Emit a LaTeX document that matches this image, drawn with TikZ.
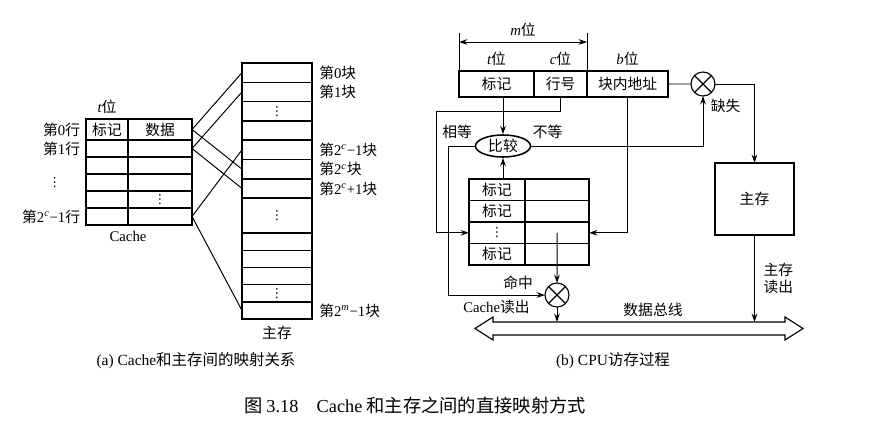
\documentclass[tikz,border=0pt]{standalone}
\usepackage{fontspec}
\setmainfont{Noto Sans CJK SC}
\newfontfamily\lat{Liberation Serif}
\newfontfamily\sym{DejaVu Sans}
\usetikzlibrary{arrows.meta,positioning,shapes.geometric}
\newcommand\hang[1]{第{\lat #1}行}
\newcommand\kuai[1]{第{\lat #1}块}
\newcommand\pw[1]{{\lat\itshape #1}位}
\newcommand\tc{2\textsuperscript{\itshape c}}
\newcommand\tm{2\textsuperscript{\itshape m}}
\newcommand\vd{{\sym\fontsize{9}{10}\selectfont ⋮}}

\begin{document}
\begin{tikzpicture}[x=0.025cm, y=-0.025cm, font=\fontsize{10.5}{12.5}\selectfont, inner sep=1pt,
      b/.style={draw, line width=1.1pt, inner sep=0pt, outer sep=0pt},
      cl/.style={b, anchor=north west},
      dt/.style={inner sep=0pt},
      ln/.style={line width=0.7pt},
      arr/.style={ln, -{Stealth[length=6pt,width=4pt]}},
      xm/.style={circle, draw, line width=0.8pt, minimum size=0.6cm, inner sep=0pt, outer sep=0pt,
                 path picture={\draw[line width=0.8pt]
                   (path picture bounding box.north west) -- (path picture bounding box.south east)
                   (path picture bounding box.north east) -- (path picture bounding box.south west);}}]
    \useasboundingbox (0,0) rectangle (870,423);

    % (a) cache lines and main memory blocks
    \node[cl, minimum width=1.05cm, minimum height=0.525cm] (t0) at (86,119) {标记};
    \node[cl, minimum width=1.6cm, minimum height=0.525cm, right=0pt of t0] (d0) {数据};
    \foreach \i [remember=\i as \j (initially 0)] in {1,...,5} {
      \node[cl, minimum width=1.05cm, minimum height=0.425cm, below=0pt of t\j] (t\i) {};
      \node[cl, minimum width=1.6cm, minimum height=0.425cm, right=0pt of t\i] (d\i) {};
    }
    \node[dt] at (d4) {\vd};
    \node[above=2.5pt of t0] {\pw{t}};
    \node[left=3pt of t0] {\hang{0}};
    \node[left=3pt of t1] {\hang{1}};
    \node[dt, left=0.62cm of t3] {\vd};
    \node[left=3pt of t5] {\hang{\tc−1}};
    \node[below=3.5pt of t5.south east] {{\lat Cache}};

    \node[cl, minimum width=1.75cm, minimum height=0.4825cm] (m0) at (242,63) {};
    \foreach \h [count=\i, remember=\i as \j (initially 0)] in {19.3,19.3,19.3,19.3,19.3,19.3,35,17.2,17.2,17.2,17.2,17.2}
      \node[cl, minimum width=1.75cm, minimum height=\h*0.025cm, below=0pt of m\j] (m\i) {};
    \foreach \k in {2,7,11} \node[dt] at (m\k) {\vd};
    \foreach \k/\s in {0/0, 1/1, 4/{\tc−1}, 5/\tc, 6/{\tc+1}, 12/{\tm−1}}
      \node[right=4pt of m\k] {\kuai{\s}};
    \node[below=3.5pt of m12] {主存};

    \draw[ln] (d0.east) -- (m0.west) (d0.east) -- (m5.west)
              (d1.east) -- (m1.west) (d1.east) -- (m6.west)
              (d5.east) -- (m4.west) (d5.east) -- (m12.west);

    % (b) address, compare, cache, main memory
    \node[cl, minimum width=1.875cm, minimum height=0.65cm] (a0) at (459,71) {标记};
    \node[cl, minimum width=1.325cm, minimum height=0.65cm, right=0pt of a0] (a1) {行号};
    \node[cl, minimum width=2.025cm, minimum height=0.65cm, right=0pt of a1] (a2) {块内地址};
    \node[above=2.5pt of a0] {\pw{t}};
    \node[above=2.5pt of a1] {\pw{c}};
    \node[above=2.5pt of a2] {\pw{b}};
    \draw[ln] (a0.north west) -- ++(0,-38) (a1.north east) -- ++(0,-38);
    \draw[ln, {Stealth[length=6pt,width=4pt]}-{Stealth[length=6pt,width=4pt]}]
      (a0.north west |- 0,42) -- (a1.north east |- 0,42) node[midway, above=2.5pt] {\pw{m}};

    \node[ellipse, draw, line width=1.1pt, minimum width=1.375cm, minimum height=0.55cm, inner sep=0pt] (cmp) at (503,146) {比较};

    \node[cl, minimum width=1.4cm, minimum height=0.5375cm] (c0) at (469,179) {标记};
    \node[cl, minimum width=1.6cm, minimum height=0.5375cm, right=0pt of c0] (e0) {};
    \foreach \s [count=\i, remember=\i as \j (initially 0)] in {标记,\vd,标记} {
      \node[cl, minimum width=1.4cm, minimum height=0.5375cm, below=0pt of c\j] (c\i) {\s};
      \node[cl, minimum width=1.6cm, minimum height=0.5375cm, right=0pt of c\i] (e\i) {};
    }

    \node[xm] (hit) at (557,295) {};
    \node[xm] (miss) at (703,84) {};
    \node[b, minimum width=1.975cm, minimum height=1.8cm] (mem) at (754.5,199) {主存};

    \draw[line width=0.8pt] (475,328.5) -- (493,317) -- (493,322) -- (785,322) -- (785,317) -- (803,328.5)
      -- (785,340) -- (785,335) -- (493,335) -- (493,340) -- cycle;
    \coordinate (bus) at (653,322);
    \coordinate (idx) at (436,111);
    \coordinate (eq) at (448,0);

    \draw[arr] (cmp.north |- a0.south) -- (cmp.north);
    \draw[arr] (cmp.south |- c0.north) -- (cmp.south);
    \draw[arr] (a1.south) |- (idx) |- (c2.west);
    \draw[arr] (cmp.west) -| (eq |- hit.west) -- (hit.west);
    \draw[arr] (cmp.east) -| (miss.south);
    \draw[ln] (a2.east) -- (miss.west);
    \draw[arr] (miss.east) -| (mem.north);
    \draw[arr] (a2.south) |- (e2.east);
    \draw[arr] (e2.center) -- (hit.north);
    \draw[arr] (hit.south) -- (hit.south |- bus);
    \draw[arr] (mem.south) -- (mem.south |- bus) node[midway, right=0.18cm, align=left] {主存\\读出};

    \node[above left=0.13cm and 0.03cm of cmp.west] {相等};
    \node[above right=0.13cm and 0cm of cmp.east] {不等};
    \node[below right=0.11cm and -0.06cm of miss.south east] {缺失};
    \node[above left=0.09cm and 0.26cm of hit.west] {命中};
    \node[below left=0.09cm and 0.34cm of hit.west] {{\lat Cache}读出};
    \node[above=2.5pt of bus] {数据总线};

    % captions
    \node[font=\fontsize{11}{13}\selectfont] (capa) at (196,361) {{\lat (a) Cache}和主存间的映射关系};
    \node[font=\fontsize{11}{13}\selectfont] (capb) at (613,361) {{\lat (b) CPU}访存过程};
    \node[font=\fontsize{13}{15}\selectfont] (fig) at (415,406) {图 {\lat 3.18\quad Cache} 和主存之间的直接映射方式};
  \end{tikzpicture}
\end{document}
